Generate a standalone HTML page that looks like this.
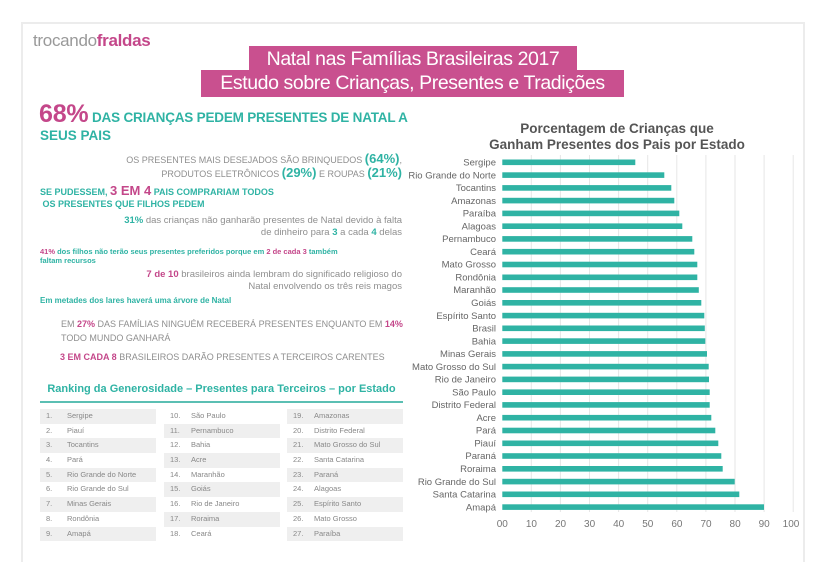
<!DOCTYPE html>
<html><head><meta charset="utf-8"><style>
*{margin:0;padding:0;box-sizing:border-box}
body{width:825px;height:545px;background:#fff;font-family:"Liberation Sans",sans-serif;position:relative;overflow:hidden}
.frame{position:absolute;left:21px;top:22px;width:784px;height:540px;border:2px solid #ececec;border-bottom:none}
.a{position:absolute;white-space:nowrap}
.t{color:#2fb3a4}.m{color:#c4478a}.g{color:#8f8f8f}
.r{text-align:right}
.tb{position:absolute;background:#c9508f;color:#fff;font-size:19.5px;line-height:26px;text-align:center;overflow:hidden;letter-spacing:-0.4px;white-space:nowrap}
.rk{position:absolute;top:409px;font-size:7.5px;color:#888}
.rk div{height:14.7px;line-height:14.7px;position:relative}
.rk div.s{background:#efefef}
.rk b{font-weight:normal;position:absolute;left:6px}
.rk i{font-style:normal;position:absolute;left:27px}
</style></head><body>
<div class="frame"></div>
<div class="a" style="left:33px;top:31px;font-size:17px;color:#999;letter-spacing:-0.3px">trocando<span class="m" style="font-weight:bold">fraldas</span></div>
<div class="tb" style="left:249px;top:46px;width:328px;height:25px">Natal nas Famílias Brasileiras 2017</div>
<div class="tb" style="left:201px;top:70px;width:423px;height:27px">Estudo sobre Crianças, Presentes e Tradições</div>

<div class="a" style="left:39px;top:106px;font-size:13.5px;line-height:16px;font-weight:bold;letter-spacing:-0.2px"><span class="m" style="font-size:25px">68%</span> <span class="t">DAS CRIANÇAS PEDEM PRESENTES DE NATAL A</span></div>
<div class="a t" style="left:40px;top:128px;font-size:13.5px;font-weight:bold;line-height:16px">SEUS PAIS</div>

<div class="a g r" style="right:423px;top:153px;font-size:9px;line-height:12.5px">OS PRESENTES MAIS DESEJADOS SÃO BRINQUEDOS <b class="t" style="font-size:13px">(64%)</b>,<br>PRODUTOS ELETRÔNICOS <b class="t" style="font-size:13px">(29%)</b> E ROUPAS <b class="t" style="font-size:13px">(21%)</b></div>

<div class="a t" style="left:40px;top:185px;font-size:9px;font-weight:bold;line-height:12px">SE PUDESSEM, <span class="m" style="font-size:13px">3 EM 4</span> PAIS COMPRARIAM TODOS<br>&nbsp;OS PRESENTES QUE FILHOS PEDEM</div>

<div class="a g r" style="right:423px;top:215px;font-size:9.5px;line-height:12px"><b class="t">31%</b> das crianças não ganharão presentes de Natal devido à falta<br>de dinheiro para <b class="t">3</b> a cada <b class="t">4</b> delas</div>

<div class="a t" style="left:40px;top:247px;font-size:7.5px;font-weight:bold;line-height:9px"><span class="m">41%</span> dos filhos não terão seus presentes preferidos porque em <span class="m">2 de cada 3</span> também<br>faltam recursos</div>

<div class="a g r" style="right:423px;top:269px;font-size:9.5px;line-height:11.5px"><b class="m">7 de 10</b> brasileiros ainda lembram do significado religioso do<br>Natal envolvendo os três reis magos</div>

<div class="a t" style="left:40px;top:296px;font-size:8px;font-weight:bold">Em metades dos lares haverá uma árvore de Natal</div>

<div class="a g" style="left:61px;top:317px;font-size:9px;line-height:14px">EM <b class="m">27%</b> DAS FAMÍLIAS NINGUÉM RECEBERÁ PRESENTES ENQUANTO EM <b class="m">14%</b><br>TODO MUNDO GANHARÁ</div>

<div class="a g" style="left:60px;top:352px;font-size:9px"><b class="m">3 EM CADA 8</b> BRASILEIROS DARÃO PRESENTES A TERCEIROS CARENTES</div>

<div class="a t" style="left:40px;top:383px;width:363px;text-align:center;font-size:11px;font-weight:bold">Ranking da Generosidade – Presentes para Terceiros – por Estado</div>
<div class="a" style="left:40px;top:401px;width:363px;height:2px;background:#5bbfb3"></div>

<div class="rk" style="left:40px;width:116px">
<div class="s"><b>1.</b><i>Sergipe</i></div><div><b>2.</b><i>Piauí</i></div><div class="s"><b>3.</b><i>Tocantins</i></div><div><b>4.</b><i>Pará</i></div><div class="s"><b>5.</b><i>Rio Grande do Norte</i></div><div><b>6.</b><i>Rio Grande do Sul</i></div><div class="s"><b>7.</b><i>Minas Gerais</i></div><div><b>8.</b><i>Rondônia</i></div><div class="s"><b>9.</b><i>Amapá</i></div></div>
<div class="rk" style="left:164px;width:116px">
<div><b>10.</b><i>São Paulo</i></div><div class="s"><b>11.</b><i>Pernambuco</i></div><div><b>12.</b><i>Bahia</i></div><div class="s"><b>13.</b><i>Acre</i></div><div><b>14.</b><i>Maranhão</i></div><div class="s"><b>15.</b><i>Goiás</i></div><div><b>16.</b><i>Rio de Janeiro</i></div><div class="s"><b>17.</b><i>Roraima</i></div><div><b>18.</b><i>Ceará</i></div></div>
<div class="rk" style="left:287px;width:116px">
<div class="s"><b>19.</b><i>Amazonas</i></div><div><b>20.</b><i>Distrito Federal</i></div><div class="s"><b>21.</b><i>Mato Grosso do Sul</i></div><div><b>22.</b><i>Santa Catarina</i></div><div class="s"><b>23.</b><i>Paraná</i></div><div><b>24.</b><i>Alagoas</i></div><div class="s"><b>25.</b><i>Espírito Santo</i></div><div><b>26.</b><i>Mato Grosso</i></div><div class="s"><b>27.</b><i>Paraíba</i></div></div>

<svg class="a" style="left:0;top:0" width="825" height="545" font-family="Liberation Sans, sans-serif">
<text x="617" y="133" text-anchor="middle" font-size="13.5" font-weight="bold" fill="#555">Porcentagem de Crianças que</text>
<text x="617" y="149" text-anchor="middle" font-size="13.5" font-weight="bold" fill="#555">Ganham Presentes dos Pais por Estado</text>
<g stroke="#e6e6e6" stroke-width="1">
<line x1="531.3" y1="155" x2="531.3" y2="512"/><line x1="560.4" y1="155" x2="560.4" y2="512"/><line x1="589.5" y1="155" x2="589.5" y2="512"/><line x1="618.6" y1="155" x2="618.6" y2="512"/><line x1="647.7" y1="155" x2="647.7" y2="512"/><line x1="676.8" y1="155" x2="676.8" y2="512"/><line x1="705.9" y1="155" x2="705.9" y2="512"/><line x1="735" y1="155" x2="735" y2="512"/><line x1="764.1" y1="155" x2="764.1" y2="512"/><line x1="793.2" y1="155" x2="793.2" y2="512"/>
</g>
<g font-size="10" fill="#777" text-anchor="middle">
<text x="502.3" y="527">00</text><text x="531.4" y="527">10</text><text x="560.5" y="527">20</text><text x="589.6" y="527">30</text><text x="618.7" y="527">40</text><text x="647.8" y="527">50</text><text x="676.9" y="527">60</text><text x="706" y="527">70</text><text x="735.1" y="527">80</text><text x="764.2" y="527">90</text><text x="791" y="527">100</text>
</g>
<g fill="#2fb3a4" font-size="9.5">
<rect x="502.3" y="159.5" width="133" height="5.6"/><text x="496" y="165.5" fill="#666" text-anchor="end">Sergipe</text>
<rect x="502.3" y="172.3" width="162" height="5.6"/><text x="496" y="178.3" fill="#666" text-anchor="end">Rio Grande do Norte</text>
<rect x="502.3" y="185.1" width="169" height="5.6"/><text x="496" y="191.1" fill="#666" text-anchor="end">Tocantins</text>
<rect x="502.3" y="197.8" width="172" height="5.6"/><text x="496" y="203.8" fill="#666" text-anchor="end">Amazonas</text>
<rect x="502.3" y="210.6" width="177" height="5.6"/><text x="496" y="216.6" fill="#666" text-anchor="end">Paraíba</text>
<rect x="502.3" y="223.4" width="180" height="5.6"/><text x="496" y="229.4" fill="#666" text-anchor="end">Alagoas</text>
<rect x="502.3" y="236.1" width="190" height="5.6"/><text x="496" y="242.1" fill="#666" text-anchor="end">Pernambuco</text>
<rect x="502.3" y="248.9" width="192" height="5.6"/><text x="496" y="254.9" fill="#666" text-anchor="end">Ceará</text>
<rect x="502.3" y="261.7" width="195" height="5.6"/><text x="496" y="267.7" fill="#666" text-anchor="end">Mato Grosso</text>
<rect x="502.3" y="274.5" width="195" height="5.6"/><text x="496" y="280.5" fill="#666" text-anchor="end">Rondônia</text>
<rect x="502.3" y="287.2" width="196.5" height="5.6"/><text x="496" y="293.2" fill="#666" text-anchor="end">Maranhão</text>
<rect x="502.3" y="300" width="199" height="5.6"/><text x="496" y="306" fill="#666" text-anchor="end">Goiás</text>
<rect x="502.3" y="312.8" width="202" height="5.6"/><text x="496" y="318.8" fill="#666" text-anchor="end">Espírito Santo</text>
<rect x="502.3" y="325.5" width="202.5" height="5.6"/><text x="496" y="331.5" fill="#666" text-anchor="end">Brasil</text>
<rect x="502.3" y="338.3" width="203" height="5.6"/><text x="496" y="344.3" fill="#666" text-anchor="end">Bahia</text>
<rect x="502.3" y="351.1" width="204.7" height="5.6"/><text x="496" y="357.1" fill="#666" text-anchor="end">Minas Gerais</text>
<rect x="502.3" y="363.8" width="206.4" height="5.6"/><text x="496" y="369.8" fill="#666" text-anchor="end">Mato Grosso do Sul</text>
<rect x="502.3" y="376.6" width="206.7" height="5.6"/><text x="496" y="382.6" fill="#666" text-anchor="end">Rio de Janeiro</text>
<rect x="502.3" y="389.4" width="207.4" height="5.6"/><text x="496" y="395.4" fill="#666" text-anchor="end">São Paulo</text>
<rect x="502.3" y="402.1" width="207.4" height="5.6"/><text x="496" y="408.1" fill="#666" text-anchor="end">Distrito Federal</text>
<rect x="502.3" y="414.9" width="209" height="5.6"/><text x="496" y="420.9" fill="#666" text-anchor="end">Acre</text>
<rect x="502.3" y="427.7" width="213" height="5.6"/><text x="496" y="433.7" fill="#666" text-anchor="end">Pará</text>
<rect x="502.3" y="440.5" width="216" height="5.6"/><text x="496" y="446.5" fill="#666" text-anchor="end">Piauí</text>
<rect x="502.3" y="453.2" width="219" height="5.6"/><text x="496" y="459.2" fill="#666" text-anchor="end">Paraná</text>
<rect x="502.3" y="466" width="220.4" height="5.6"/><text x="496" y="472" fill="#666" text-anchor="end">Roraima</text>
<rect x="502.3" y="478.8" width="232.4" height="5.6"/><text x="496" y="484.8" fill="#666" text-anchor="end">Rio Grande do Sul</text>
<rect x="502.3" y="491.5" width="237" height="5.6"/><text x="496" y="497.5" fill="#666" text-anchor="end">Santa Catarina</text>
<rect x="502.3" y="504.3" width="261.7" height="5.6"/><text x="496" y="510.3" fill="#666" text-anchor="end">Amapá</text>
</g>
</svg>
</body></html>
